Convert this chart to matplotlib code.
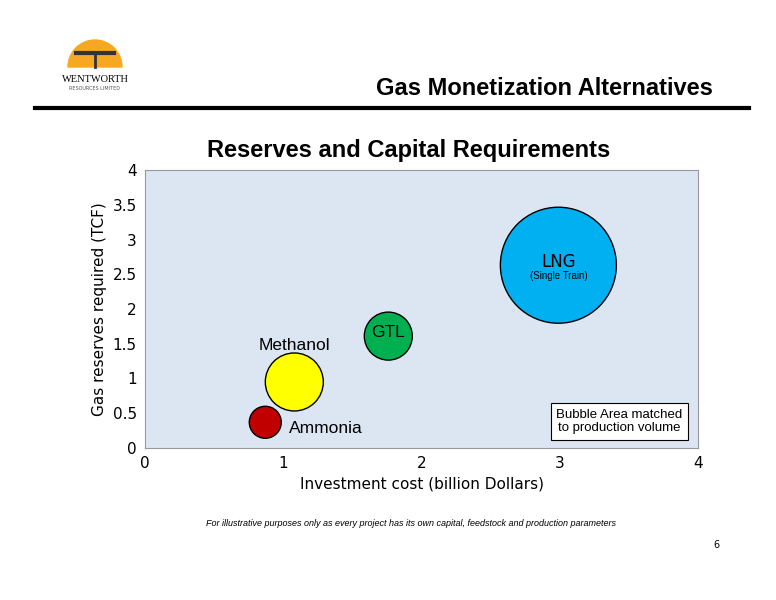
import matplotlib
matplotlib.use("Agg")
import matplotlib.pyplot as plt
from matplotlib.patches import Wedge

names = ["LNG", "GTL", "Methanol", "Ammonia"]
invest = [2.99, 1.76, 1.08, 0.87]
reserves = [2.63, 1.61, 0.95, 0.37]
radius_px = [58, 24, 29, 16]
colors = ["#00b0f0", "#00b050", "#ffff00", "#c00000"]

fig = plt.figure(figsize=(7.76, 6), dpi=100)
W, H = 776, 600
def fx(x): return x / W
def fy(y): return 1 - y / H

# logo
lax = fig.add_axes([fx(40), fy(105), 110 / W, 75 / H])
lax.set_xlim(0, 110); lax.set_ylim(0, 75); lax.axis("off")
lax.add_patch(Wedge((55, 38), 27, 0, 180, color="#f7a823"))
lax.plot([36, 74], [52, 52], color="#333", lw=3)
lax.plot([55, 55], [38, 52], color="#333", lw=2)
lax.text(55, 26, "WENTWORTH", ha="center", va="center", fontsize=7.5, family="Liberation Serif")
lax.text(55, 16, "RESOURCES LIMITED", ha="center", va="center", fontsize=3.5, color="#555")

fig.add_artist(plt.Line2D([fx(35), fx(749)], [fy(108), fy(108)], color="black", lw=3))
fig.text(fx(713), fy(88), "Gas Monetization Alternatives", ha="right", va="center",
         fontsize=17, fontweight="bold", family="Liberation Sans")
fig.text(fx(409), fy(150), "Reserves and Capital Requirements", ha="center", va="center",
         fontsize=17, fontweight="bold", family="Liberation Sans")

ax = fig.add_axes([fx(145), fy(448), (698 - 145) / W, (448 - 170) / H])
ax.set_facecolor("#dce6f2")
ax.set_xlim(0, 4); ax.set_ylim(0, 4)
ax.set_xticks([0, 1, 2, 3, 4])
ax.set_yticks([0, 0.5, 1, 1.5, 2, 2.5, 3, 3.5, 4])
ax.set_yticklabels(["0", "0.5", "1", "1.5", "2", "2.5", "3", "3.5", "4"])
ax.tick_params(labelsize=11, length=0, pad=6)
for s in ax.spines.values():
    s.set_color("#999999")
sizes = [(2 * r * 72 / 100) ** 2 for r in radius_px]
ax.scatter(invest, reserves, s=sizes, c=colors, edgecolors="black", linewidths=1, zorder=3)
ax.set_xlabel("Investment cost (billion Dollars)", fontsize=11)
ax.set_ylabel("Gas reserves required (TCF)", fontsize=11)

ax.text(invest[0], reserves[0] + 0.05, "LNG", ha="center", va="center", fontsize=12, zorder=4)
ax.text(invest[0], reserves[0] - 0.16, "(Single Train)", ha="center", va="center", fontsize=7, zorder=4,
        family="Liberation Sans")
ax.text(invest[1], reserves[1] + 0.05, "GTL", ha="center", va="center", fontsize=12.5, zorder=4,
        family="Liberation Sans")
ax.text(1.08, 1.48, "Methanol", ha="center", va="center", fontsize=12.5, family="Liberation Sans")
ax.text(1.04, 0.28, "Ammonia", ha="left", va="center", fontsize=12.5, family="Liberation Sans")
ax.text(3.43, 0.38, "Bubble Area matched\nto production volume", ha="center", va="center",
        fontsize=9.5, family="Liberation Sans",
        bbox=dict(boxstyle="square,pad=0.4", fc="white", ec="black", lw=0.8))

fig.text(fx(411), fy(524), "For illustrative purposes only as every project has its own capital, feedstock and production parameters",
         ha="center", va="center", fontsize=6.5, style="italic", family="Liberation Sans")
fig.text(fx(720), fy(545), "6", ha="right", va="center", fontsize=7)
fig.savefig("out.png", dpi=100)
